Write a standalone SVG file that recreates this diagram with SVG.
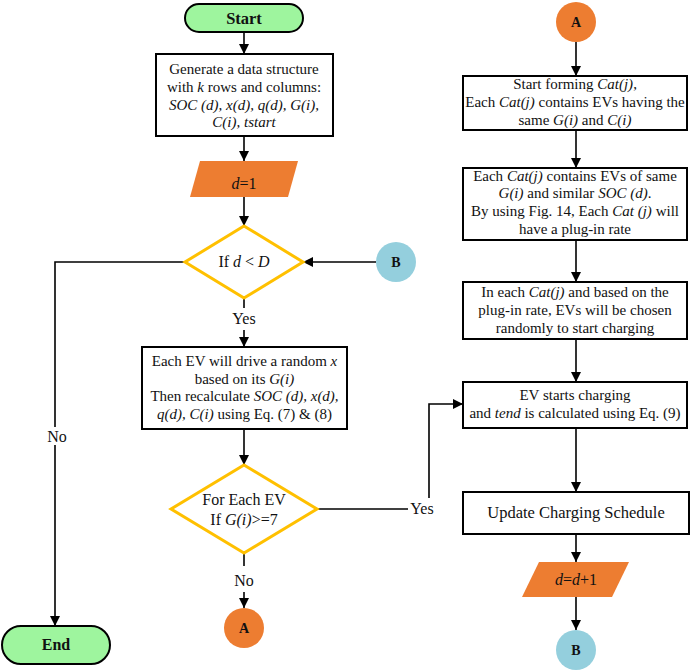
<svg xmlns="http://www.w3.org/2000/svg" width="691" height="671" viewBox="0 0 691 671">
<defs>
<marker id="arr" viewBox="0 0 10 10" refX="10" refY="5" markerWidth="10" markerHeight="10" markerUnits="userSpaceOnUse" orient="auto">
<path d="M0,0 L10,5 L0,10 z" fill="#000"/>
</marker>
<style>
text{font-family:"Liberation Serif","Times New Roman",serif;font-size:15px;fill:#111;text-anchor:middle}
.i{font-style:italic}
.b{font-weight:bold}
.box{fill:#fff;stroke:#000;stroke-width:2}
.term{fill:#9ef59e;stroke:#000;stroke-width:2}
.dia{fill:#fff;stroke:#ffc000;stroke-width:3}
.io{fill:#ed7d31;stroke:none}
.ca{fill:#ed7d31}
.cb{fill:#94cfdd}
.ln{fill:none;stroke:#000;stroke-width:1.6}
.d16{font-size:16px}
</style>
</defs>
<rect width="691" height="671" fill="#fff"/>
<g id="connectors">
<line class="ln" x1="244" y1="32" x2="244" y2="54" marker-end="url(#arr)"/>
<line class="ln" x1="244" y1="136" x2="244" y2="161" marker-end="url(#arr)"/>
<line class="ln" x1="244" y1="197" x2="244" y2="226" marker-end="url(#arr)"/>
<line class="ln" x1="376" y1="262" x2="303" y2="262" marker-end="url(#arr)"/>
<polyline class="ln" points="185,262 55,262 55,626" marker-end="url(#arr)"/>
<line class="ln" x1="244" y1="298" x2="244" y2="308"/>
<line class="ln" x1="244" y1="330" x2="244" y2="347" marker-end="url(#arr)"/>
<line class="ln" x1="244" y1="429" x2="244" y2="465" marker-end="url(#arr)"/>
<line class="ln" x1="244" y1="553" x2="244" y2="566"/>
<line class="ln" x1="244" y1="592" x2="244" y2="608" marker-end="url(#arr)"/>
<line class="ln" x1="317" y1="509" x2="408" y2="509"/>
<polyline class="ln" points="429,498 429,404 463,404" marker-end="url(#arr)"/>
<line class="ln" x1="576" y1="42" x2="576" y2="76" marker-end="url(#arr)"/>
<line class="ln" x1="576" y1="130" x2="576" y2="168" marker-end="url(#arr)"/>
<line class="ln" x1="576" y1="240" x2="576" y2="282" marker-end="url(#arr)"/>
<line class="ln" x1="576" y1="339" x2="576" y2="382" marker-end="url(#arr)"/>
<line class="ln" x1="576" y1="428" x2="576" y2="492" marker-end="url(#arr)"/>
<line class="ln" x1="576" y1="534" x2="576" y2="562" marker-end="url(#arr)"/>
<line class="ln" x1="576" y1="597" x2="576" y2="630" marker-end="url(#arr)"/>
<rect x="46" y="427" width="22" height="18" fill="#fff"/>
<text x="57" y="442" class="d16">No</text>
<text x="244" y="324" class="d16">Yes</text>
<text x="244" y="586" class="d16">No</text>
<text x="422" y="514" class="d16">Yes</text>
</g>
<g id="start">
<rect class="term" x="185" y="4" width="118" height="28" rx="14"/>
<text x="244" y="24" class="b" style="font-size:16.5px">Start</text>
</g>
<g id="init">
<rect class="box" x="156" y="54" width="177" height="82"/>
<text x="244" y="74">Generate a data structure</text>
<text x="244" y="92">with <tspan class="i">k</tspan> rows and columns:</text>
<text x="244" y="109.5" class="i">SOC (d), x(d), q(d), G(i),</text>
<text x="244" y="127" class="i">C(i), tstart</text>
</g>
<g id="d1">
<polygon class="io" points="200,161 298,161 288,197 190,197"/>
<text x="244" y="189" style="font-size:16px"><tspan class="i">d</tspan>=1</text>
</g>
<g id="cond1">
<polygon class="dia" points="244,226 303,262 244,298 185,262"/>
<text x="244" y="267" class="d16">If <tspan class="i">d</tspan> &lt; <tspan class="i">D</tspan></text>
</g>
<g id="drive">
<rect class="box" x="142" y="347" width="205" height="82"/>
<text x="244.5" y="366">Each EV will drive a random <tspan class="i">x</tspan></text>
<text x="244.5" y="383.5">based on its <tspan class="i">G(i)</tspan></text>
<text x="244.5" y="401">Then recalculate <tspan class="i">SOC (d), x(d),</tspan></text>
<text x="244.5" y="419"><tspan class="i">q(d), C(i)</tspan> using Eq. (7) &amp; (8)</text>
</g>
<g id="cond2">
<polygon class="dia" points="244,465 317,509 244,553 171,509"/>
<text x="244" y="505" class="d16">For Each EV</text>
<text x="244" y="525" class="d16">If <tspan class="i">G(i)</tspan>&gt;=7</text>
</g>
<g id="connA1">
<circle class="ca" cx="244" cy="628" r="20"/>
<text x="244" y="633" class="b" style="font-size:14px">A</text>
</g>
<g id="end">
<rect class="term" x="2" y="626" width="108" height="38" rx="19"/>
<text x="56" y="650" class="b" style="font-size:16px">End</text>
</g>
<g id="connB1">
<circle class="cb" cx="396" cy="262" r="20"/>
<text x="396" y="267" class="b" style="font-size:14px">B</text>
</g>
<g id="connA2">
<circle class="ca" cx="576" cy="22" r="20"/>
<text x="576" y="27" class="b" style="font-size:14px">A</text>
</g>
<g id="cat1">
<rect class="box" x="463" y="76" width="224" height="54"/>
<text x="575" y="89">Start forming <tspan class="i">Cat(j)</tspan>,</text>
<text x="575" y="107">Each <tspan class="i">Cat(j)</tspan> contains EVs having the</text>
<text x="575" y="124.5">same <tspan class="i">G(i)</tspan> and <tspan class="i">C(i)</tspan></text>
</g>
<g id="cat2">
<rect class="box" x="463" y="168" width="224" height="72"/>
<text x="575" y="180.5">Each <tspan class="i">Cat(j)</tspan> contains EVs of same</text>
<text x="575" y="198"><tspan class="i">G(i)</tspan> and similar <tspan class="i">SOC (d)</tspan>.</text>
<text x="575" y="216">By using Fig. 14, Each <tspan class="i">Cat (j)</tspan> will</text>
<text x="575" y="234">have a plug-in rate</text>
</g>
<g id="cat3">
<rect class="box" x="463" y="282" width="224" height="57"/>
<text x="575" y="297">In each <tspan class="i">Cat(j)</tspan> and based on the</text>
<text x="575" y="315">plug-in rate, EVs will be chosen</text>
<text x="575" y="333">randomly to start charging</text>
</g>
<g id="charge">
<rect class="box" x="463" y="382" width="224" height="46"/>
<text x="575" y="400">EV starts charging</text>
<text x="575" y="418">and <tspan class="i">tend</tspan> is calculated using Eq. (9)</text>
</g>
<g id="update">
<rect class="box" x="463" y="492" width="226" height="42"/>
<text x="576" y="518" style="font-size:16.5px">Update Charging Schedule</text>
</g>
<g id="dinc">
<polygon class="io" points="539,562 629,562 612,597 522,597"/>
<text x="576" y="585" style="font-size:16px"><tspan class="i">d</tspan>=<tspan class="i">d</tspan>+1</text>
</g>
<g id="connB2">
<circle class="cb" cx="576" cy="650" r="20"/>
<text x="576" y="655" class="b" style="font-size:14px">B</text>
</g>
</svg>
